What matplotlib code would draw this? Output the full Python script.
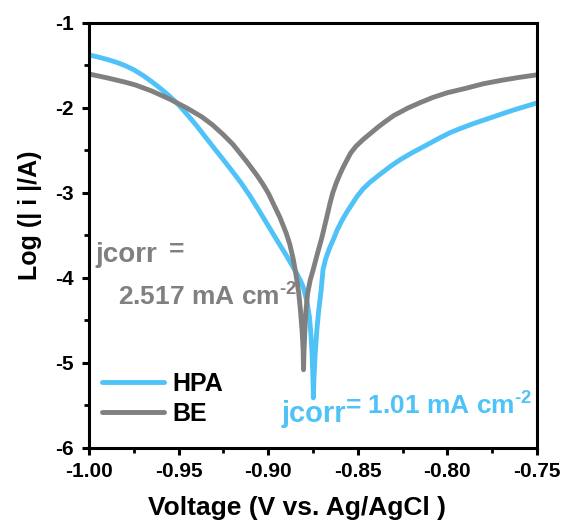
import matplotlib
matplotlib.use("Agg")
import matplotlib.pyplot as plt
from matplotlib.ticker import MultipleLocator

plt.rcParams['font.family'] = ['Liberation Sans', 'DejaVu Sans']
plt.rcParams['font.weight'] = 'bold'
plt.rcParams['mathtext.fontset'] = 'custom'
plt.rcParams['mathtext.rm'] = 'Liberation Sans:bold'
plt.rcParams['mathtext.bf'] = 'Liberation Sans:bold'
plt.rcParams['mathtext.it'] = 'Liberation Sans:bold'
plt.rcParams['axes.unicode_minus'] = False

# HPA data (voltage V vs Ag/AgCl, log|i|)
hpa_v = [-1.000, -0.995, -0.990, -0.985, -0.980, -0.975, -0.970, -0.965, -0.960,
         -0.955, -0.950, -0.945, -0.940, -0.935, -0.930, -0.925, -0.920, -0.915,
         -0.910, -0.905, -0.900, -0.895, -0.890, -0.8867, -0.884, -0.882, -0.8806,
         -0.879, -0.878, -0.877, -0.8762, -0.8755, -0.8750, -0.8748,
         -0.8745, -0.8738, -0.8728, -0.8718, -0.8705, -0.8694, -0.868, -0.866,
         -0.8635, -0.8616, -0.859, -0.856, -0.8535, -0.8504, -0.847, -0.843,
         -0.8376, -0.832, -0.8265, -0.820, -0.812, -0.805, -0.7985, -0.792,
         -0.785, -0.778, -0.771, -0.764, -0.757, -0.750]
hpa_log = [-1.376, -1.400, -1.428, -1.460, -1.500, -1.550, -1.615, -1.690, -1.772,
           -1.862, -1.962, -2.082, -2.207, -2.342, -2.477, -2.610, -2.745, -2.885,
           -3.040, -3.210, -3.385, -3.560, -3.730, -3.850, -3.950, -4.030, -4.100,
           -4.220, -4.320, -4.460, -4.650, -4.900, -5.200, -5.410,
           -5.200, -4.900, -4.600, -4.380, -4.150, -3.900, -3.780, -3.660,
           -3.540, -3.440, -3.330, -3.220, -3.140, -3.040, -2.950, -2.870,
           -2.780, -2.690, -2.610, -2.530, -2.440, -2.360, -2.290, -2.235,
           -2.180, -2.130, -2.080, -2.030, -1.985, -1.940]

# BE data
be_v = [-1.000, -0.990, -0.980, -0.974, -0.965, -0.955, -0.945, -0.937, -0.931,
        -0.925, -0.9196, -0.912, -0.906, -0.903, -0.900, -0.8934, -0.890, -0.888,
        -0.886, -0.8845, -0.883, -0.882, -0.881, -0.8805, -0.8803,
        -0.8800, -0.8795, -0.879, -0.878, -0.8765, -0.875, -0.873, -0.870,
        -0.8675, -0.8655, -0.864, -0.862, -0.860, -0.858, -0.856, -0.854,
        -0.851, -0.847, -0.843, -0.839, -0.835, -0.830, -0.822, -0.815, -0.808,
        -0.800, -0.790, -0.780, -0.770, -0.760, -0.750]
be_log = [-1.600, -1.645, -1.695, -1.730, -1.800, -1.895, -2.005, -2.105, -2.200,
          -2.315, -2.430, -2.630, -2.800, -2.895, -3.000, -3.290, -3.470, -3.600,
          -3.780, -3.960, -4.170, -4.380, -4.650, -4.850, -5.080,
          -4.850, -4.600, -4.400, -4.180, -4.020, -3.910, -3.750, -3.520,
          -3.300, -3.120, -3.000, -2.880, -2.780, -2.690, -2.610, -2.530,
          -2.450, -2.370, -2.300, -2.230, -2.165, -2.090, -2.000, -1.935, -1.875,
          -1.820, -1.770, -1.715, -1.675, -1.640, -1.610]

labels = ['HPA', 'BE']
blue = '#4FC3F7'
gray = '#808080'

fig = plt.figure(figsize=(5.68, 5.29), dpi=100)
ax = fig.add_axes([89/568, 1-448/529, 448/568, 425/529])

ax.plot(hpa_v, hpa_log, color=blue, lw=3.5, label=labels[0],
        solid_joinstyle='round', solid_capstyle='round')
ax.plot(be_v, be_log, color=gray, lw=3.5, label=labels[1],
        solid_joinstyle='round', solid_capstyle='round')

ax.set_xlim(-1.0, -0.75)
ax.set_ylim(-6, -1)
ax.xaxis.set_minor_locator(MultipleLocator(0.025))
ax.yaxis.set_minor_locator(MultipleLocator(0.5))
ax.set_xticks([-1.00, -0.95, -0.90, -0.85, -0.80, -0.75])
ax.set_xticklabels(['-1.00', '-0.95', '-0.90', '-0.85', '-0.80', '-0.75'])
ax.set_yticks([-6, -5, -4, -3, -2, -1])
ax.set_yticklabels(['-6', '-5', '-4', '-3', '-2', '-1'])

for s in ax.spines.values():
    s.set_linewidth(2.2)
ax.tick_params(which='major', direction='out', length=5, width=2.2,
               labelsize=15, pad=5)
ax.tick_params(axis='y', which='major', pad=6)
ax.tick_params(which='minor', direction='out', length=3.5, width=2)
for t in ax.get_xticklabels() + ax.get_yticklabels():
    t.set_fontweight('bold')

ax.set_xlabel('Voltage (V vs. Ag/AgCl )', fontsize=19, fontweight='bold')
ax.set_ylabel('Log (| i |/A)', fontsize=18, fontweight='bold')
ax.xaxis.set_label_coords(0.464, -0.141)
ax.xaxis.label.set_va('center')
ax.yaxis.set_label_coords(-0.132, 0.548)
ax.yaxis.label.set_va('center')

# annotations
fs = 19
ax.text(-0.9967, -3.81, 'jcorr', color=gray, fontsize=fs + 1, fontweight='bold',
        ha='left', va='baseline')
ax.text(-0.9555, -3.66, '=', color=gray, fontsize=fs, fontweight='bold',
        ha='left', va='center')
ax.text(-0.9839, -4.32, r'2.517 mA cm$^{\text{-2}}$', color=gray, fontsize=fs,
        fontweight='bold', ha='left', va='baseline')
ax.text(-0.8923, -5.69, 'jcorr', color=blue, fontsize=fs + 2, fontweight='bold',
        ha='left', va='baseline')
ax.text(-0.8571, -5.61, r'= 1.01 mA cm$^{\text{-2}}$', color=blue, fontsize=fs,
        fontweight='bold', ha='left', va='baseline')

leg = ax.legend(loc='center left', bbox_to_anchor=(0.029, 0.116), frameon=False,
                fontsize=18, handlelength=2.5, handletextpad=0.3,
                labelspacing=0.25, borderpad=0, borderaxespad=0)
for line in leg.get_lines():
    line.set_linewidth(3.5)
for t in leg.get_texts():
    t.set_fontweight('bold')

fig.savefig('out.png', dpi=100)
